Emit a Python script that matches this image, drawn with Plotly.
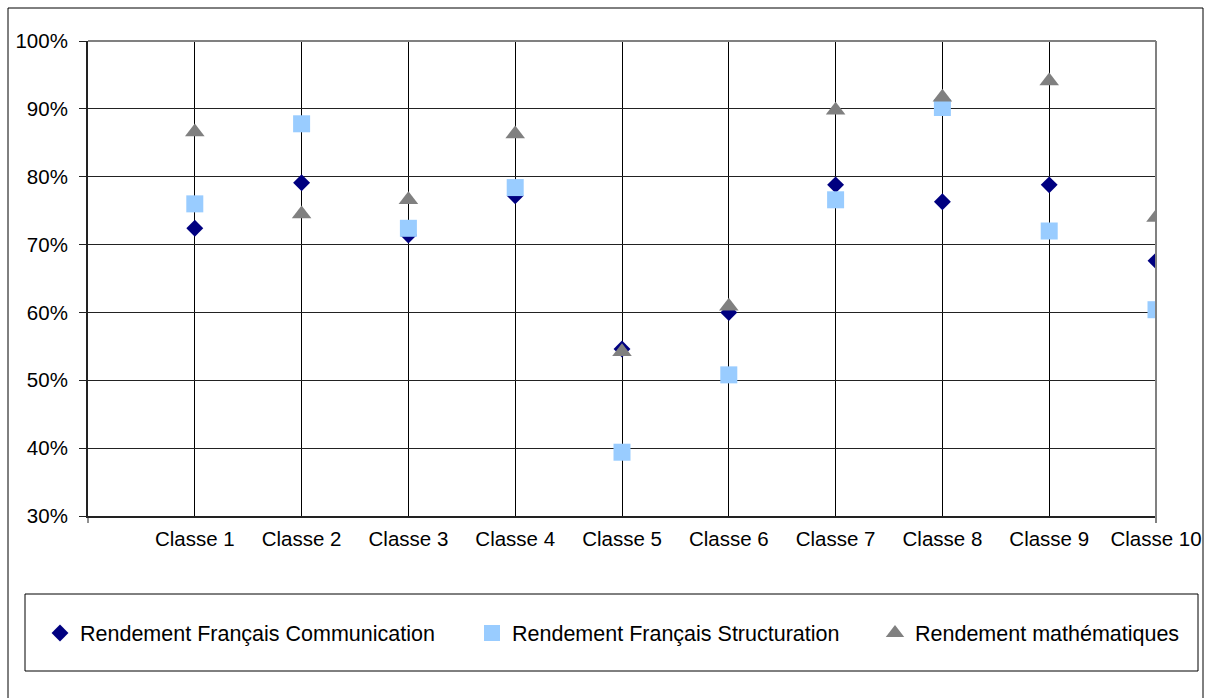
import plotly.graph_objects as go

classes = ["Classe %d" % i for i in range(1, 11)]
xpos = list(range(1, 11))
comm = [72.4, 79.1, 71.4, 77.2, 54.6, 60.0, 78.8, 76.3, 78.8, 67.6]
struct = [76.0, 87.8, 72.4, 78.4, 39.4, 50.8, 76.6, 90.2, 72.0, 60.4]
maths = [86.6, 74.5, 76.6, 86.3, 54.2, 60.9, 89.8, 91.7, 94.1, 74.0]
names = ["Rendement Français Communication", "Rendement Français Structuration", "Rendement mathématiques"]
ytick_vals = [0.3, 0.4, 0.5, 0.6, 0.7, 0.8, 0.9, 1.0]

FONT = "Liberation Sans, Arial, sans-serif"
TICK_SIZE = 20.5
LEG_SIZE = 21.5

fig = go.Figure()
fig.add_trace(go.Scatter(x=xpos, y=[v / 100 for v in comm], mode="markers", name=names[0],
                         marker=dict(symbol="diamond", size=13, color="#000080", line=dict(width=0)),
                         legendwidth=387))
fig.add_trace(go.Scatter(x=xpos, y=[v / 100 for v in struct], mode="markers", name=names[1],
                         marker=dict(symbol="square", size=17, color="#99CCFF", line=dict(width=0)),
                         legendwidth=358))
fig.add_trace(go.Scatter(x=xpos, y=[v / 100 for v in maths], mode="markers", name=names[2],
                         marker=dict(symbol="triangle-up", size=17, color="#808080", line=dict(width=0)),
                         legendwidth=262))

W, H = 1207, 698
L, R, T, B = 88, 1156, 41, 516
pw, ph = R - L, B - T
def px(x):
    return (x - L) / pw
def py(y):
    return (B - y) / ph

shapes = [
    # outer chart border
    dict(type="rect", xref="paper", yref="paper", x0=px(8), x1=px(1203), y0=py(705), y1=py(8),
         line=dict(color="#000000", width=1)),
    # legend box
    dict(type="rect", xref="paper", yref="paper", x0=px(25), x1=px(1198), y0=py(671), y1=py(594),
         line=dict(color="#000000", width=1)),
    # plot area top & right border (gray)
    dict(type="line", xref="paper", yref="paper", x0=0, x1=1, y0=1, y1=1,
         line=dict(color="#808080", width=2)),
    dict(type="line", xref="paper", yref="paper", x0=1, x1=1, y0=py(523), y1=1,
         line=dict(color="#808080", width=2)),
    # left end tick of x axis
    dict(type="line", xref="paper", yref="paper", x0=0, x1=0, y0=py(523), y1=0,
         line=dict(color="#222222", width=1)),
]

fig.update_layout(
    width=W, height=H, autosize=False,
    margin=dict(l=L, r=W - R, t=T, b=H - B, autoexpand=False),
    paper_bgcolor="white", plot_bgcolor="white",
    font=dict(family=FONT, size=TICK_SIZE, color="#000000"),
    showlegend=True,
    legend=dict(orientation="h", x=px(40), xanchor="left", y=py(633), yanchor="middle",
                font=dict(family=FONT, size=LEG_SIZE, color="#000000"),
                bgcolor="rgba(0,0,0,0)", borderwidth=0, itemclick=False),
    shapes=shapes,
    hovermode=False,
)
fig.update_xaxes(range=[0, 10], tickmode="array", tickvals=xpos, ticktext=classes,
                 showgrid=True, gridcolor="#000000", gridwidth=1,
                 showline=True, linecolor="#222222", linewidth=2,
                 ticks="", ticklabelstandoff=3, zeroline=False, ticklabeloverflow="allow",
                 tickfont=dict(family=FONT, size=TICK_SIZE, color="#000000"))
fig.update_yaxes(range=[0.3, 1.0], tickmode="array", tickvals=ytick_vals, tickformat=".0%",
                 showgrid=True, gridcolor="#222222", gridwidth=1,
                 showline=True, linecolor="#222222", linewidth=2,
                 ticks="outside", ticklen=7, tickcolor="#222222", tickwidth=1,
                 ticklabelstandoff=7, zeroline=False,
                 tickfont=dict(family=FONT, size=TICK_SIZE, color="#000000"))

fig.write_html("out.html",
               config={"responsive": False, "displayModeBar": False, "staticPlot": True},
               post_script="document.body.style.margin='0';document.body.style.overflow='hidden';")
